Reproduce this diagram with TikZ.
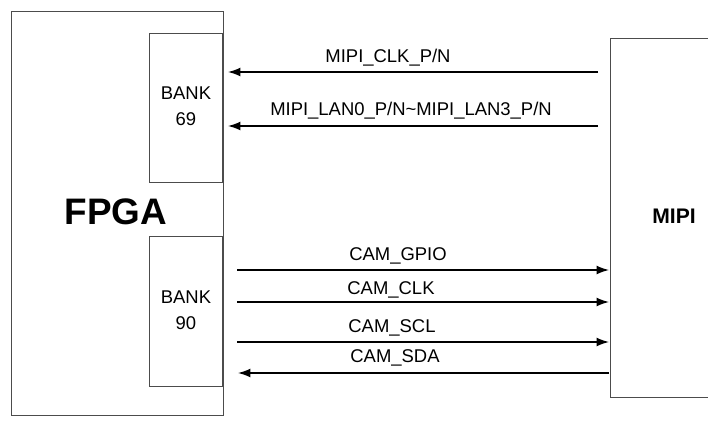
\documentclass[tikz,border=0pt]{standalone}
\usepackage{fontspec}
\setmainfont{Liberation Sans}
\usetikzlibrary{arrows.meta}
\begin{document}
\begin{tikzpicture}[x=0.02cm,y=-0.02cm,
    box/.style={draw, thin, gray!60!black},
    sig/.style={thick, -{Latex[length=7pt,width=5pt]}},
    lbl/.style={font=\fontsize{10.5}{12}\selectfont, inner sep=0pt}]
                \useasboundingbox (0,0) rectangle (708,427);
                \draw[box] (11,11) rectangle (223,415);
                \node[font=\fontsize{21}{24}\selectfont\bfseries] (fpga) at (116,212) {FPGA};
                \draw[box, fill=white] (149,33) rectangle (222,182);
                \node[lbl, align=center] (bank69) at (186,106) {BANK\\[3pt]69};
                \draw[box, fill=white] (149,236) rectangle (222,386);
                \node[lbl, align=center] (bank90) at (186,310) {BANK\\[3pt]90};
                \draw[box] (610,38) -- (708,38) (708,397) -- (610,397) -- (610,38);
                \node[font=\fontsize{12}{14}\selectfont\bfseries] (mipi) at (674,216) {MIPI};

                \coordinate (clkA) at (598,72);   \coordinate (clkB) at (228,72);
                \coordinate (lanA) at (598,126);  \coordinate (lanB) at (228,126);
                \coordinate (gpioA) at (237,270); \coordinate (gpioB) at (609,270);
                \coordinate (camclkA) at (237,302); \coordinate (camclkB) at (609,302);
                \coordinate (sclA) at (237,342);  \coordinate (sclB) at (609,342);
                \coordinate (sdaA) at (609,373);  \coordinate (sdaB) at (238,373);

                \draw[sig] (clkA) -- (clkB);
                \node[lbl] at (388,58) {MIPI\_CLK\_P/N};
                \draw[sig] (lanA) -- (lanB);
                \node[lbl] at (411,111) {MIPI\_LAN0\_P/N\textasciitilde MIPI\_LAN3\_P/N};
                \draw[sig] (gpioA) -- (gpioB);
                \node[lbl] at (398,256) {CAM\_GPIO};
                \draw[sig] (camclkA) -- (camclkB);
                \node[lbl] at (391,290) {CAM\_CLK};
                \draw[sig] (sclA) -- (sclB);
                \node[lbl] at (392,328) {CAM\_SCL};
                \draw[sig] (sdaA) -- (sdaB);
                \node[lbl] at (395,358) {CAM\_SDA};
            \end{tikzpicture}
\end{document}
